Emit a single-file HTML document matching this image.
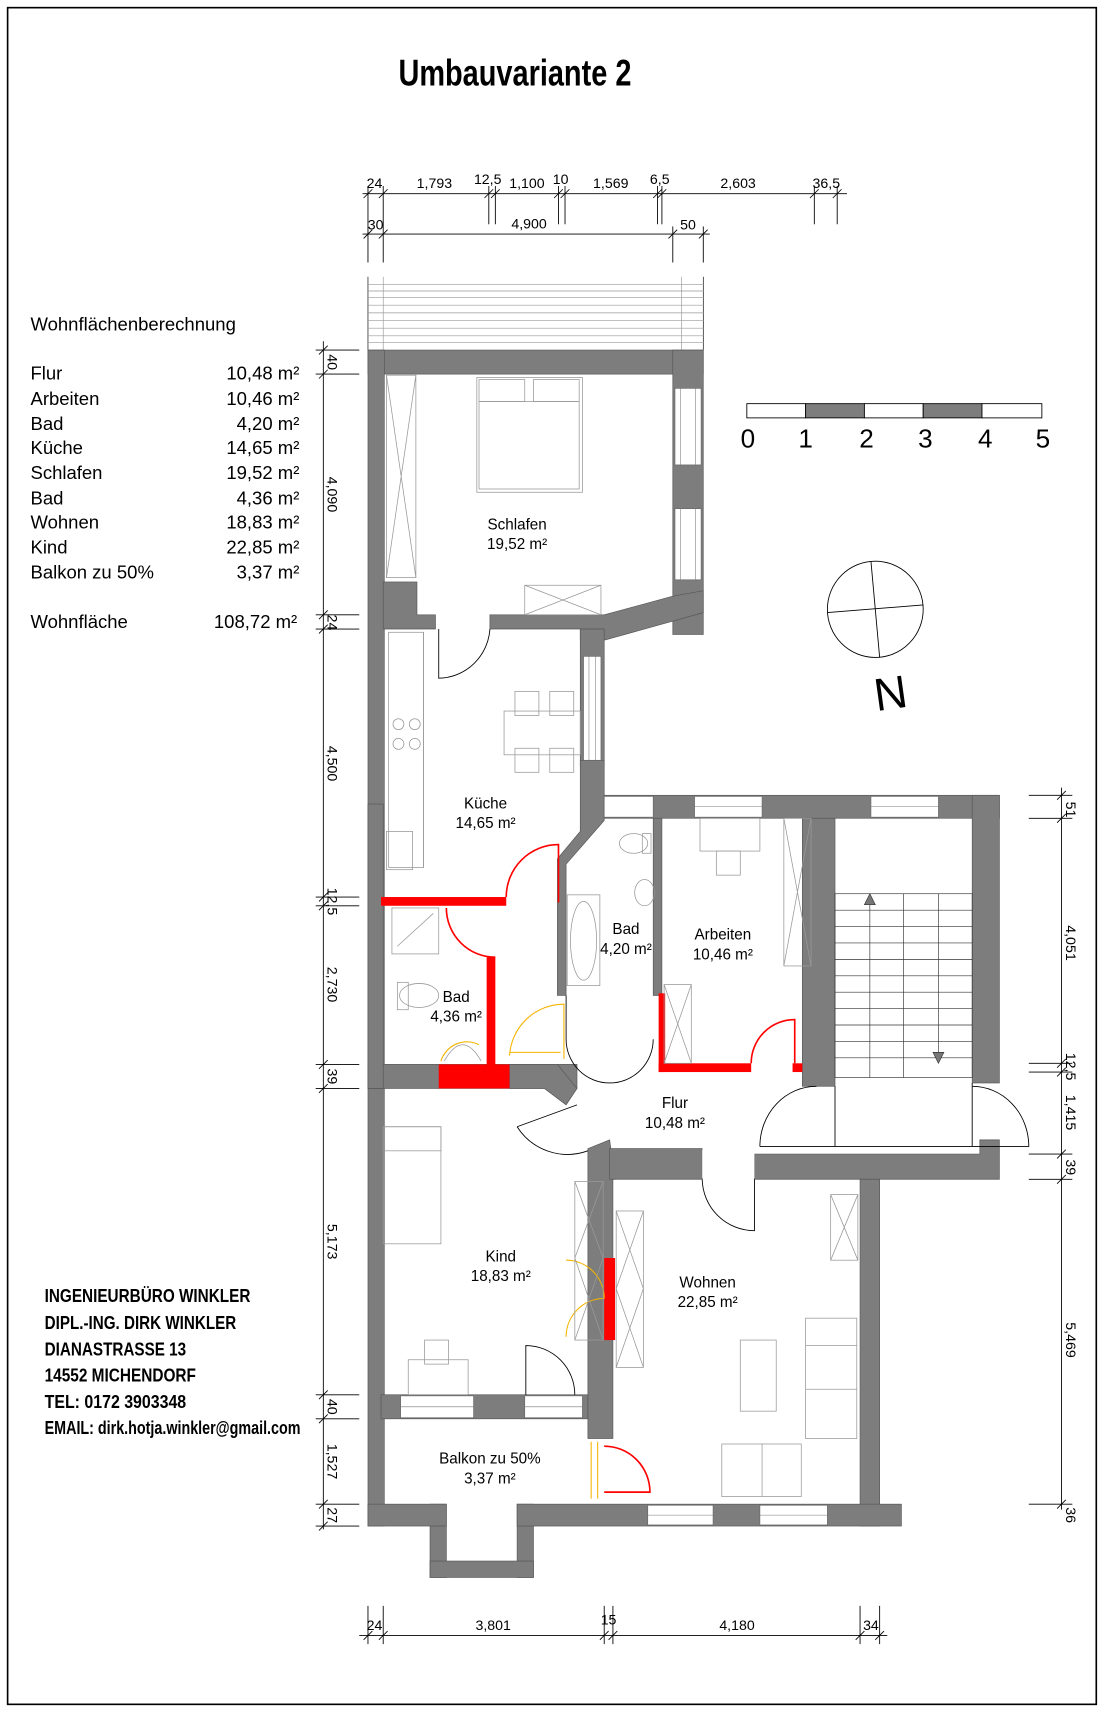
<!DOCTYPE html>
<html><head><meta charset="utf-8"><style>
html,body{margin:0;padding:0;background:#fff}
svg{display:block}
text{font-family:"Liberation Sans",sans-serif;fill:#000}
</style></head><body>
<svg width="1105" height="1712" viewBox="0 0 1015 1565" preserveAspectRatio="none" xmlns="http://www.w3.org/2000/svg">
<rect x="7" y="7" width="1000" height="1551" fill="none" stroke="#000" stroke-width="1.5"/>
<text x="473" y="78" font-size="34" font-weight="bold" text-anchor="middle" textLength="214" lengthAdjust="spacingAndGlyphs">Umbauvariante 2</text>

<g stroke="#000" stroke-width="0.8" fill="none">
<line x1="333" y1="177" x2="778" y2="177"/>
<line x1="333" y1="214" x2="652" y2="214"/>
<line x1="338" y1="170" x2="338" y2="240"/><line x1="352" y1="170" x2="352" y2="240"/>
<line x1="449" y1="170" x2="449" y2="205"/><line x1="455" y1="170" x2="455" y2="205"/>
<line x1="513" y1="170" x2="513" y2="205"/><line x1="519" y1="170" x2="519" y2="205"/>
<line x1="604" y1="170" x2="604" y2="205"/><line x1="608" y1="170" x2="608" y2="205"/>
<line x1="748" y1="170" x2="748" y2="205"/><line x1="769" y1="170" x2="769" y2="205"/>
<line x1="618" y1="207" x2="618" y2="240"/><line x1="646" y1="207" x2="646" y2="240"/>
<path d="M334 181 l8 -8 M348 181 l8 -8 M445 181 l8 -8 M451 181 l8 -8 M509 181 l8 -8 M515 181 l8 -8 M600 181 l8 -8 M604 181 l8 -8 M744 181 l8 -8 M765 181 l8 -8 M334 218 l8 -8 M348 218 l8 -8 M614 218 l8 -8 M642 218 l8 -8"/>
<line x1="297" y1="312" x2="297" y2="1398"/>
<path d="M290 320 h40 M290 342 h40 M290 562 h40 M290 575 h40 M290 820 h40 M290 828 h40 M290 973 h40 M290 995 h40 M290 1275 h40 M290 1297 h40 M290 1375 h40 M290 1395 h40"/>
<path d="M293 324 l8 -8 M293 346 l8 -8 M293 566 l8 -8 M293 579 l8 -8 M293 824 l8 -8 M293 832 l8 -8 M293 977 l8 -8 M293 999 l8 -8 M293 1279 l8 -8 M293 1301 l8 -8 M293 1379 l8 -8 M293 1399 l8 -8"/>
<line x1="975" y1="720" x2="975" y2="1380"/>
<path d="M945 727 h40 M945 748 h40 M945 972 h40 M945 980 h40 M945 1055 h40 M945 1078 h40 M945 1375 h40"/>
<path d="M971 731 l8 -8 M971 752 l8 -8 M971 976 l8 -8 M971 984 l8 -8 M971 1059 l8 -8 M971 1082 l8 -8 M971 1379 l8 -8"/>
<line x1="330" y1="1495" x2="815" y2="1495"/>
<path d="M338 1468 v35 M352 1468 v35 M555 1468 v35 M563 1468 v35 M790 1468 v35 M808 1468 v35"/>
<path d="M334 1499 l8 -8 M348 1499 l8 -8 M551 1499 l8 -8 M559 1499 l8 -8 M786 1499 l8 -8 M804 1499 l8 -8"/>
</g>
<g font-size="13">
<text x="344" y="172" text-anchor="middle">24</text>
<text x="399" y="172" text-anchor="middle">1,793</text>
<text x="448" y="168" text-anchor="middle">12,5</text>
<text x="484" y="172" text-anchor="middle">1,100</text>
<text x="515" y="168" text-anchor="middle">10</text>
<text x="561" y="172" text-anchor="middle">1,569</text>
<text x="606" y="168" text-anchor="middle">6,5</text>
<text x="678" y="172" text-anchor="middle">2,603</text>
<text x="759" y="172" text-anchor="middle">36,5</text>
<text x="345" y="210" text-anchor="middle">30</text>
<text x="486" y="209" text-anchor="middle">4,900</text>
<text x="632" y="210" text-anchor="middle">50</text>
<text x="344" y="1490" text-anchor="middle">24</text>
<text x="453" y="1490" text-anchor="middle">3,801</text>
<text x="559" y="1485" text-anchor="middle">15</text>
<text x="677" y="1490" text-anchor="middle">4,180</text>
<text x="800" y="1490" text-anchor="middle">34</text>
</g>
<g font-size="13">
<text transform="translate(301,331) rotate(90)" text-anchor="middle">40</text>
<text transform="translate(301,452) rotate(90)" text-anchor="middle">4,090</text>
<text transform="translate(301,569) rotate(90)" text-anchor="middle">24</text>
<text transform="translate(301,698) rotate(90)" text-anchor="middle">4,500</text>
<text transform="translate(301,824) rotate(90)" text-anchor="middle">12,5</text>
<text transform="translate(301,900) rotate(90)" text-anchor="middle">2,730</text>
<text transform="translate(301,984) rotate(90)" text-anchor="middle">39</text>
<text transform="translate(301,1135) rotate(90)" text-anchor="middle">5,173</text>
<text transform="translate(301,1286) rotate(90)" text-anchor="middle">40</text>
<text transform="translate(301,1336) rotate(90)" text-anchor="middle">1,527</text>
<text transform="translate(301,1385) rotate(90)" text-anchor="middle">27</text>
<text transform="translate(979,740) rotate(90)" text-anchor="middle">51</text>
<text transform="translate(979,862) rotate(90)" text-anchor="middle">4,051</text>
<text transform="translate(979,975) rotate(90)" text-anchor="middle">12,5</text>
<text transform="translate(979,1017) rotate(90)" text-anchor="middle">1,415</text>
<text transform="translate(979,1067) rotate(90)" text-anchor="middle">39</text>
<text transform="translate(979,1225) rotate(90)" text-anchor="middle">5,469</text>
<text transform="translate(979,1385) rotate(90)" text-anchor="middle">36</text>
</g>

<g stroke="#999" stroke-width="0.6">
<line x1="338" y1="253" x2="338" y2="320" stroke="#000"/><line x1="646" y1="253" x2="646" y2="320" stroke="#000"/>
<line x1="352" y1="253" x2="352" y2="320"/><line x1="626" y1="253" x2="626" y2="320"/>
<line x1="338" y1="260" x2="646" y2="260"/><line x1="338" y1="266" x2="646" y2="266"/><line x1="338" y1="272" x2="646" y2="272"/>
<line x1="338" y1="279" x2="646" y2="279"/><line x1="338" y1="286" x2="646" y2="286"/><line x1="338" y1="293" x2="646" y2="293"/>
<line x1="338" y1="300" x2="646" y2="300"/><line x1="338" y1="307" x2="646" y2="307"/><line x1="338" y1="313" x2="646" y2="313"/>
</g>

<g fill="#7d7d7d" stroke="#555" stroke-width="0.6">
<rect x="338" y="320" width="308" height="22"/>
<rect x="338" y="320" width="15" height="1075"/>
<rect x="618" y="320" width="28" height="260"/>
<polygon points="352,532 383,532 383,562 400,562 400,575 352,575"/>
<polygon points="450,562 555,562 618,545 646,540 646,560 556,585 533,585 533,575 450,575"/>
<polygon points="533,575 555,575 555,700 533,700"/>
<polygon points="533,695 555,695 555,750 520,790 520,910 512,910 512,785 533,760"/>
<rect x="555" y="727" width="363" height="21"/>
<rect x="600" y="748" width="8" height="162"/>
<rect x="737" y="748" width="30" height="245"/>
<rect x="893" y="727" width="25" height="263"/>
<rect x="338" y="973" width="192" height="22"/>
<polygon points="468,973 512,973 530,995 520,1010 500,995 468,995"/>
<polygon points="540,1050 560,1042 565,1078 563,1078 563,1315 540,1315"/>
<polygon points="560,1050 645,1050 645,1078 560,1078"/>
<polygon points="693,1055 900,1055 900,1042 918,1042 918,1078 693,1078"/>
<rect x="790" y="1078" width="18" height="317"/>
<rect x="350" y="1275" width="190" height="22"/>
<rect x="395" y="1375" width="15" height="67"/>
<rect x="475" y="1375" width="15" height="67"/>
<rect x="395" y="1427" width="95" height="15"/>
<rect x="338" y="1375" width="72" height="20"/>
<rect x="475" y="1375" width="353" height="20"/>
<rect x="338" y="735" width="14" height="260"/>
</g>
<g fill="#fff" stroke="#666" stroke-width="0.6">
<rect x="620" y="355" width="24" height="70"/><rect x="620" y="465" width="24" height="65"/>
<rect x="536" y="600" width="16" height="95"/>
<rect x="638" y="728" width="62" height="19"/><rect x="800" y="728" width="62" height="19"/>
<rect x="368" y="1276" width="67" height="20"/><rect x="482" y="1276" width="53" height="20"/>
<rect x="595" y="1376" width="60" height="18"/><rect x="698" y="1376" width="62" height="18"/>
<rect x="555" y="728" width="45" height="19"/>
<rect x="645" y="1051" width="48" height="26" stroke="none"/>
</g>
<g stroke="#777" stroke-width="0.5"><line x1="625" y1="355" x2="625" y2="425"/><line x1="639" y1="355" x2="639" y2="425"/><line x1="625" y1="465" x2="625" y2="530"/><line x1="639" y1="465" x2="639" y2="530"/><line x1="541" y1="600" x2="541" y2="695"/><line x1="547" y1="600" x2="547" y2="695"/>
<line x1="638" y1="737" x2="700" y2="737"/><line x1="800" y1="737" x2="862" y2="737"/><line x1="368" y1="1286" x2="435" y2="1286"/><line x1="482" y1="1286" x2="535" y2="1286"/><line x1="595" y1="1385" x2="655" y2="1385"/><line x1="698" y1="1385" x2="760" y2="1385"/></g>

<g fill="#f00">
<rect x="350" y="820" width="115" height="8"/>
<rect x="447" y="875" width="8" height="100"/>
<rect x="403" y="973" width="65" height="22"/>
<rect x="605" y="908" width="6" height="72"/>
<rect x="605" y="972" width="85" height="8"/>
<rect x="728" y="972" width="9" height="8"/>
<rect x="555" y="1150" width="10" height="75"/>
</g>
<g fill="none" stroke="#f00" stroke-width="1.5">
<path d="M465 820 A48 48 0 0 1 513 772 V825"/>
<path d="M455 875 A45 45 0 0 1 410 830"/>
<path d="M690 972 A40 40 0 0 1 730 932 V972"/>
<path d="M555 1322 A42 42 0 0 1 597 1364 H555"/>
</g>
<g fill="none" stroke="#f5b400" stroke-width="1">
<path d="M468 965 A50 50 0 0 1 518 918 V968"/>
<path d="M468 962 H515"/>
<path d="M520 1152 A35 35 0 0 1 555 1187 M520 1222 A35 35 0 0 1 555 1187"/>
<path d="M543 1318 V1370 M549 1318 V1370"/>
<path d="M405 970 A25 25 0 0 1 440 955"/>
</g>
<g fill="none" stroke="#000" stroke-width="0.8">
<path d="M403 575 V620 A48 48 0 0 0 450 575"/>
<path d="M520 910 V950 A40 40 0 0 0 600 950"/>
<path d="M475 1030 L530 1010 M475 1030 A55 55 0 0 0 540 1052"/>
<path d="M645 1078 A48 48 0 0 0 693 1125 V1078"/>
<path d="M483 1275 V1230 A45 45 0 0 1 528 1275"/>
<path d="M698 1048 A52 55 0 0 1 750 993"/>
<path d="M893 993 A52 55 0 0 1 945 1048 H698"/>
<line x1="767" y1="993" x2="767" y2="1048"/><line x1="893" y1="990" x2="893" y2="1048"/>
</g>

<g stroke="#333" stroke-width="0.6" fill="none">
<rect x="767" y="817" width="126" height="168"/>
<line x1="830" y1="817" x2="830" y2="985"/>
<path d="M767 832h126M767 847h126M767 862h126M767 877h126M767 892h126M767 907h126M767 922h126M767 937h126M767 952h126M767 967h126"/>
<line x1="799" y1="822" x2="799" y2="985"/><line x1="862" y1="817" x2="862" y2="965"/>
<polygon points="794,827 799,817 804,827" fill="#777"/><polygon points="857,962 862,972 867,962" fill="#777"/>
</g>

<g fill="none" stroke="#999" stroke-width="0.7">
<rect x="355" y="343" width="27" height="185"/><path d="M355 343 L382 528 M382 343 L355 528"/>
<rect x="438" y="345" width="97" height="105"/><rect x="440" y="347" width="42" height="20"/><rect x="490" y="347" width="42" height="20"/><rect x="440" y="367" width="92" height="80"/>
<rect x="482" y="535" width="70" height="27"/><path d="M482 535 L552 562 M552 535 L482 562"/>
<rect x="357" y="578" width="32" height="215"/><line x1="389" y1="578" x2="389" y2="793"/>
<circle cx="366" cy="662" r="5"/><circle cx="381" cy="662" r="5"/><circle cx="366" cy="680" r="5"/><circle cx="381" cy="680" r="5"/>
<rect x="355" y="760" width="24" height="35"/>
<rect x="463" y="650" width="70" height="40"/>
<rect x="473" y="632" width="22" height="22"/><rect x="505" y="632" width="22" height="22"/><rect x="473" y="684" width="22" height="22"/><rect x="505" y="684" width="22" height="22"/>
<rect x="360" y="830" width="43" height="42"/><path d="M365 865 L398 835"/>
<ellipse cx="385" cy="910" rx="18" ry="11"/><rect x="365" y="898" width="10" height="25"/>
<path d="M408 970 Q425 940 442 970"/>
<rect x="521" y="818" width="30" height="83"/><ellipse cx="536" cy="860" rx="12" ry="36"/>
<ellipse cx="582" cy="771" rx="13" ry="9"/><rect x="590" y="762" width="8" height="18"/>
<ellipse cx="592" cy="816" rx="9" ry="12"/>
<rect x="643" y="748" width="55" height="30"/><rect x="658" y="778" width="22" height="22"/>
<rect x="720" y="748" width="25" height="135"/><path d="M720 748 L745 883 M745 748 L720 883"/>
<rect x="610" y="900" width="25" height="72"/><path d="M610 900 L635 972 M635 900 L610 972"/>
<rect x="352" y="1030" width="53" height="107"/><rect x="352" y="1030" width="53" height="22"/>
<rect x="375" y="1243" width="55" height="32"/><rect x="390" y="1225" width="22" height="22"/>
<rect x="528" y="1080" width="26" height="145"/><path d="M528 1080 L554 1150 M554 1080 L528 1150 M528 1150 L554 1225 M554 1150 L528 1225"/>
<rect x="566" y="1107" width="25" height="143"/><path d="M566 1107 L591 1178 M591 1107 L566 1178 M566 1178 L591 1250 M591 1178 L566 1250"/>
<rect x="763" y="1092" width="25" height="60"/><path d="M763 1092 L788 1152 M788 1092 L763 1152"/>
<rect x="680" y="1225" width="33" height="65"/>
<rect x="740" y="1205" width="47" height="110"/><path d="M740 1230 h47 M740 1270 h47"/>
<rect x="663" y="1320" width="73" height="48"/><line x1="700" y1="1320" x2="700" y2="1368"/>
</g>

<g font-size="14" text-anchor="middle">
<text x="475" y="484">Schlafen</text><text x="475" y="502">19,52 m²</text>
<text x="446" y="739">Küche</text><text x="446" y="757">14,65 m²</text>
<text x="575" y="854">Bad</text><text x="575" y="872">4,20 m²</text>
<text x="664" y="859">Arbeiten</text><text x="664" y="877">10,46 m²</text>
<text x="419" y="916">Bad</text><text x="419" y="934">4,36 m²</text>
<text x="620" y="1013">Flur</text><text x="620" y="1031">10,48 m²</text>
<text x="460" y="1153">Kind</text><text x="460" y="1171">18,83 m²</text>
<text x="650" y="1177">Wohnen</text><text x="650" y="1195">22,85 m²</text>
<text x="450" y="1338">Balkon zu 50%</text><text x="450" y="1356">3,37 m²</text>
</g>

<g font-size="17">
<text x="28" y="302">Wohnflächenberechnung</text>
<text x="28" y="347">Flur</text><text x="275" y="347" text-anchor="end">10,48 m²</text>
<text x="28" y="370">Arbeiten</text><text x="275" y="370" text-anchor="end">10,46 m²</text>
<text x="28" y="393">Bad</text><text x="275" y="393" text-anchor="end">4,20 m²</text>
<text x="28" y="415">Küche</text><text x="275" y="415" text-anchor="end">14,65 m²</text>
<text x="28" y="438">Schlafen</text><text x="275" y="438" text-anchor="end">19,52 m²</text>
<text x="28" y="461">Bad</text><text x="275" y="461" text-anchor="end">4,36 m²</text>
<text x="28" y="483">Wohnen</text><text x="275" y="483" text-anchor="end">18,83 m²</text>
<text x="28" y="506">Kind</text><text x="275" y="506" text-anchor="end">22,85 m²</text>
<text x="28" y="529">Balkon zu 50%</text><text x="275" y="529" text-anchor="end">3,37 m²</text>
<text x="28" y="574">Wohnfläche</text><text x="273" y="574" text-anchor="end">108,72 m²</text>
</g>
<g font-size="17" font-weight="bold">
<text x="41" y="1190" textLength="189" lengthAdjust="spacingAndGlyphs">INGENIEURBÜRO WINKLER</text>
<text x="41" y="1215" textLength="176" lengthAdjust="spacingAndGlyphs">DIPL.-ING. DIRK WINKLER</text>
<text x="41" y="1239" textLength="130" lengthAdjust="spacingAndGlyphs">DIANASTRASSE 13</text>
<text x="41" y="1263" textLength="139" lengthAdjust="spacingAndGlyphs">14552 MICHENDORF</text>
<text x="41" y="1287" textLength="130" lengthAdjust="spacingAndGlyphs">TEL:  0172 3903348</text>
<text x="41" y="1311" textLength="235" lengthAdjust="spacingAndGlyphs">EMAIL: dirk.hotja.winkler@gmail.com</text>
</g>

<g stroke="#000" stroke-width="0.8">
<rect x="686" y="369" width="54" height="13" fill="#fff"/><rect x="740" y="369" width="54" height="13" fill="#7d7d7d"/>
<rect x="794" y="369" width="54" height="13" fill="#fff"/><rect x="848" y="369" width="54" height="13" fill="#7d7d7d"/>
<rect x="902" y="369" width="55" height="13" fill="#fff"/>
</g>
<g font-size="24" text-anchor="middle">
<text x="687" y="409">0</text><text x="740" y="409">1</text><text x="796" y="409">2</text><text x="850" y="409">3</text><text x="905" y="409">4</text><text x="958" y="409">5</text>
</g>
<g stroke="#000" stroke-width="0.8" fill="none">
<circle cx="804" cy="557" r="44"/>
<line x1="800" y1="513" x2="808" y2="601"/><line x1="760" y1="560" x2="848" y2="553"/>
</g>
<text transform="translate(820,648) rotate(-8)" font-size="42" text-anchor="middle" fill="#555">N</text>
</svg>
</body></html>
